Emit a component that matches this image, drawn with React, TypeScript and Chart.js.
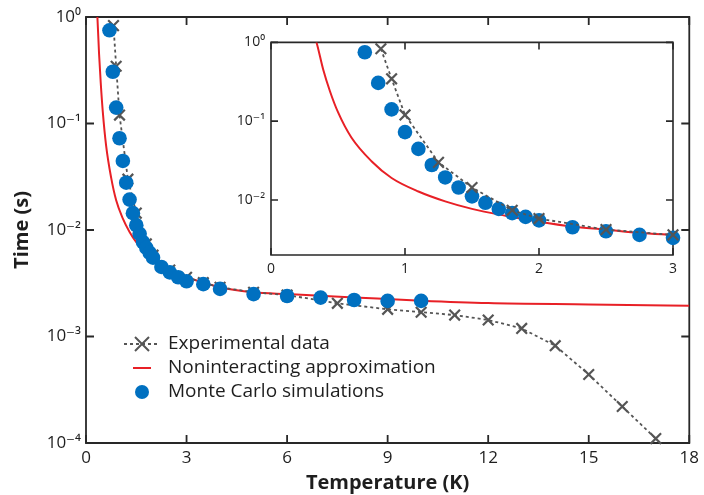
import React, { useEffect, useRef } from 'react';
import { Chart, registerables } from 'chart.js';
Chart.register(...registerables);

// ---- data ----
const expT = [0.82, 0.9, 1.0, 1.25, 1.5, 1.8, 2.0, 2.5, 3.0, 3.5, 4.0, 5.0, 6.0, 7.5, 9, 10, 11, 12, 13, 14, 15, 16, 17];
const expTime = [0.83, 0.345, 0.12, 0.03, 0.0144, 0.0074, 0.0058, 0.0042, 0.0036, 0.0032, 0.0029, 0.0026, 0.00245, 0.00205, 0.0018, 0.00169, 0.00159, 0.00143, 0.00119, 0.00082, 0.00044, 0.00022, 0.00011];

const mcT = [0.7, 0.8, 0.9, 1.0, 1.1, 1.2, 1.3, 1.4, 1.5, 1.6, 1.7, 1.8, 1.9, 2.0, 2.25, 2.5, 2.75, 3.0, 3.5, 4, 5, 6, 7, 8, 9, 10];
const mcTime = [0.75, 0.306, 0.141, 0.0727, 0.0445, 0.0278, 0.0193, 0.0144, 0.0111, 0.0092, 0.0077, 0.0068, 0.0061, 0.0055, 0.0045, 0.004, 0.0036, 0.0033, 0.0031, 0.0028, 0.0025, 0.0024, 0.00232, 0.0022, 0.00216, 0.00216];

const nonT = [0.3, 0.34, 0.39, 0.44, 0.5, 0.6, 0.75, 0.9, 1.1, 1.3, 1.5, 1.75, 2.0, 2.25, 2.5, 2.75, 3.0, 4, 5, 6, 8, 10, 12, 15, 18];
const nonTime = [1.6, 1.0, 0.45, 0.24, 0.13, 0.062, 0.031, 0.019, 0.0128, 0.0096, 0.0077, 0.0063, 0.0053, 0.0046, 0.0042, 0.0038, 0.0036, 0.0029, 0.0026, 0.0025, 0.00233, 0.00217, 0.00206, 0.002, 0.00194];

const labels = ['Experimental data', 'Noninteracting approximation', 'Monte Carlo simulations'];

const mainYTicks = [1e-4, 1e-3, 1e-2, 1e-1, 1];
const mainYLabels = ['10⁻⁴', '10⁻³', '10⁻²', '10⁻¹', '10⁰'];
const insetYTicks = [1e-2, 1e-1, 1];
const insetYLabels = ['10⁻²', '10⁻¹', '10⁰'];

const RED = 'rgb(232,32,38)';
const BLUE = 'rgb(0,112,192)';
const GRAY = 'rgb(85,85,85)';
const AXIS = 'rgb(40,40,40)';
const FONT = "'Open Sans', 'DejaVu Sans', sans-serif";

const pts = (xs: number[], ys: number[], maxX = Infinity) =>
  xs.map((x, i) => ({ x, y: ys[i] })).filter((p) => p.x <= maxX);

const framePlugin = {
  id: 'frameTicks',
  beforeDatasetsDraw(chart: any, _a: any, opts: any) {
    const { ctx, chartArea: a } = chart;
    const xs = chart.scales.x;
    const ys = chart.scales.y;
    ctx.save();
    ctx.strokeStyle = AXIS;
    ctx.lineWidth = opts.width;
    ctx.beginPath();
    ctx.rect(a.left, a.top, a.right - a.left, a.bottom - a.top);
    ctx.stroke();
    ctx.beginPath();
    for (const t of xs.ticks) {
      const p = xs.getPixelForValue(t.value);
      ctx.moveTo(p, a.bottom);
      ctx.lineTo(p, a.bottom - opts.len);
      ctx.moveTo(p, a.top);
      ctx.lineTo(p, a.top + opts.len);
    }
    for (const t of ys.ticks) {
      const p = ys.getPixelForValue(t.value);
      ctx.moveTo(a.left, p);
      ctx.lineTo(a.left + opts.len, p);
      ctx.moveTo(a.right, p);
      ctx.lineTo(a.right - opts.len, p);
    }
    ctx.stroke();
    ctx.restore();
  },
};

const legendPlugin = {
  id: 'insideLegend',
  afterDraw(chart: any, _a: any, opts: any) {
    if (!opts.show) return;
    const { ctx } = chart;
    ctx.save();
    const sx = 142;
    const tx = 168;
    const rows = [344, 368, 392];
    // experimental
    ctx.strokeStyle = GRAY;
    ctx.lineWidth = 1.8;
    ctx.setLineDash([3, 3]);
    ctx.beginPath();
    ctx.moveTo(sx - 18, rows[0]);
    ctx.lineTo(sx + 18, rows[0]);
    ctx.stroke();
    ctx.setLineDash([]);
    ctx.lineWidth = 2;
    ctx.beginPath();
    ctx.moveTo(sx - 7, rows[0] - 7);
    ctx.lineTo(sx + 7, rows[0] + 7);
    ctx.moveTo(sx - 7, rows[0] + 7);
    ctx.lineTo(sx + 7, rows[0] - 7);
    ctx.stroke();
    // red
    ctx.strokeStyle = RED;
    ctx.lineWidth = 2;
    ctx.beginPath();
    ctx.moveTo(sx - 9, rows[1]);
    ctx.lineTo(sx + 9, rows[1]);
    ctx.stroke();
    // blue
    ctx.fillStyle = BLUE;
    ctx.beginPath();
    ctx.arc(sx, rows[2], 7, 0, Math.PI * 2);
    ctx.fill();
    ctx.fillStyle = 'rgb(30,30,30)';
    ctx.font = `19px ${FONT}`;
    ctx.textBaseline = 'middle';
    ctx.textAlign = 'left';
    labels.forEach((l, i) => ctx.fillText(l, tx, rows[i]));
    ctx.restore();
  },
};

const titlesPlugin = {
  id: 'axisTitles',
  afterDraw(chart: any, _a: any, opts: any) {
    if (!opts.show) return;
    const { ctx, chartArea: a } = chart;
    ctx.save();
    ctx.fillStyle = 'rgb(30,30,30)';
    ctx.font = `bold 20px ${FONT}`;
    ctx.textAlign = 'center';
    ctx.textBaseline = 'middle';
    ctx.fillText('Temperature (K)', (a.left + a.right) / 2, 483);
    ctx.translate(22, (a.top + a.bottom) / 2);
    ctx.rotate(-Math.PI / 2);
    ctx.fillText('Time (s)', 0, 0);
    ctx.restore();
  },
};

function makeConfig(inset: boolean): any {
  const maxX = inset ? 3 : 18;
  const yTicks = inset ? insetYTicks : mainYTicks;
  const yLabels = inset ? insetYLabels : mainYLabels;
  const fontSize = inset ? 14 : 17;
  return {
    type: 'scatter',
    data: {
      datasets: [
        {
          label: labels[1],
          data: pts(nonT, nonTime),
          showLine: true,
          borderColor: RED,
          borderWidth: 2,
          pointRadius: 0,
          cubicInterpolationMode: 'monotone',
          order: 3,
        },
        {
          label: labels[0],
          data: pts(expT, expTime, maxX),
          showLine: true,
          borderColor: GRAY,
          borderWidth: 1.8,
          borderDash: [3, 3],
          pointStyle: 'crossRot',
          pointRadius: 7.5,
          pointBorderWidth: 2.2,
          pointBorderColor: GRAY,
          pointBackgroundColor: GRAY,
          clip: false,
          order: inset ? 1 : 2,
        },
        {
          label: labels[2],
          data: pts(mcT, mcTime, maxX),
          showLine: false,
          pointStyle: 'circle',
          pointRadius: 7.3,
          pointBorderWidth: 0,
          pointBackgroundColor: BLUE,
          pointBorderColor: BLUE,
          clip: false,
          order: inset ? 2 : 1,
        },
      ],
    },
    options: {
      responsive: false,
      animation: false,
      events: [],
      layout: {
        padding: inset
          ? { left: 0, right: 22, top: 12, bottom: 0 }
          : { left: 0, right: 8, top: 17, bottom: 0 },
      },
      plugins: {
        legend: { display: false },
        tooltip: { enabled: false },
        frameTicks: { width: inset ? 1.6 : 1.8, len: inset ? 7 : 8 },
        insideLegend: { show: !inset },
        axisTitles: { show: !inset },
      },
      scales: {
        x: {
          type: 'linear',
          min: 0,
          max: maxX,
          afterFit: (s: any) => {
            s.height = inset ? 35 : 52;
          },
          grid: { display: false, drawTicks: false },
          border: { display: false },
          ticks: {
            stepSize: inset ? 1 : 3,
            padding: inset ? 6 : 5,
            maxRotation: 0,
            color: 'rgb(30,30,30)',
            font: { family: FONT, size: fontSize },
          },
        },
        y: {
          type: 'logarithmic',
          min: inset ? 0.002 : 1e-4,
          max: 1,
          afterFit: (s: any) => {
            s.width = inset ? 46 : 86;
          },
          afterBuildTicks: (s: any) => {
            s.ticks = yTicks.map((v) => ({ value: v }));
          },
          grid: { display: false, drawTicks: false },
          border: { display: false },
          ticks: {
            padding: inset ? 6 : 5,
            color: 'rgb(30,30,30)',
            font: { family: FONT, size: fontSize },
            callback: (v: number) => {
              const i = yTicks.findIndex((t) => Math.abs(Math.log10(t) - Math.log10(v)) < 1e-6);
              return i >= 0 ? yLabels[i] : '';
            },
          },
        },
      },
    },
    plugins: [framePlugin, legendPlugin, titlesPlugin],
  };
}

export default function App() {
  const mainRef = useRef<HTMLCanvasElement>(null);
  const insetRef = useRef<HTMLCanvasElement>(null);
  useEffect(() => {
    const c1 = new Chart(mainRef.current as HTMLCanvasElement, makeConfig(false));
    const c2 = new Chart(insetRef.current as HTMLCanvasElement, makeConfig(true));
    return () => {
      c1.destroy();
      c2.destroy();
    };
  }, []);
  return (
    <div style={{ position: 'fixed', left: 0, top: 0, width: 704, height: 495, background: '#fff' }}>
      <canvas ref={mainRef} width={704} height={495} style={{ position: 'absolute', left: 0, top: 0 }} />
      <canvas ref={insetRef} width={470} height={262} style={{ position: 'absolute', left: 225, top: 28 }} />
    </div>
  );
}
